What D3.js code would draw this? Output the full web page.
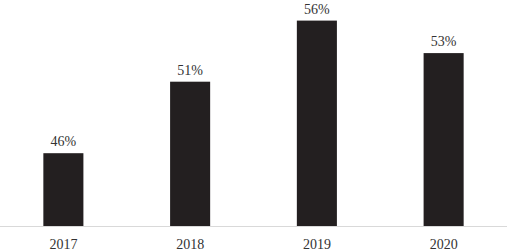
<!DOCTYPE html>
<html>
<head>
<meta charset="utf-8">
<script src="https://cdn.jsdelivr.net/npm/d3@7"></script>
<style>
  body { margin: 0; background: #fff; }
  svg { display: block; }
  text { font-family: "Liberation Serif", "Times New Roman", serif; fill: #333; }
</style>
</head>
<body>
<div class="chart"></div>
<script>
// chart data
var years = ["2017", "2018", "2019", "2020"];
var shares = [45.6, 51.1, 55.8, 53.3];

var width = 507;
var height = 252;

var svg = d3.select(".chart")
  .append("svg")
  .attr("width", width)
  .attr("height", height);

var x = d3.scaleBand()
  .domain(years)
  .range([0, width])
  .paddingInner(0.684)
  .paddingOuter(0.342);

var y = d3.scaleLinear()
  .domain([40, 57])
  .range([226, 5]);

var data = years.map(function(d, i) { return {year: d, value: shares[i]}; });

svg.selectAll("rect.bar")
  .data(data)
  .enter()
  .append("rect")
  .attr("class", "bar")
  .attr("x", function(d) { return x(d.year); })
  .attr("width", x.bandwidth())
  .attr("y", function(d) { return y(d.value); })
  .attr("height", function(d) { return y(40) - y(d.value); })
  .attr("fill", "#231f20");

// baseline axis
var xAxis = svg.append("g")
  .attr("transform", "translate(0," + y(40) + ")")
  .call(d3.axisBottom(x).tickSize(0).tickPadding(10));

xAxis.select(".domain")
  .attr("stroke", "#d9d9d9")
  .attr("d", "M0,0.5H" + width);

xAxis.selectAll("text")
  .attr("font-size", "14px")
  .attr("dy", "0.9em")
  .style("font-family", "'Liberation Serif', 'Times New Roman', serif")
  .attr("fill", "#333");

// value labels
svg.selectAll("text.val")
  .data(data)
  .enter()
  .append("text")
  .attr("class", "val")
  .attr("text-anchor", "middle")
  .attr("font-size", "14px")
  .attr("x", function(d) { return x(d.year) + x.bandwidth() / 2; })
  .attr("y", function(d) { return y(d.value) - 7; })
  .text(function(d) { return d3.format(".0f")(d.value) + "%"; });
</script>
</body>
</html>
